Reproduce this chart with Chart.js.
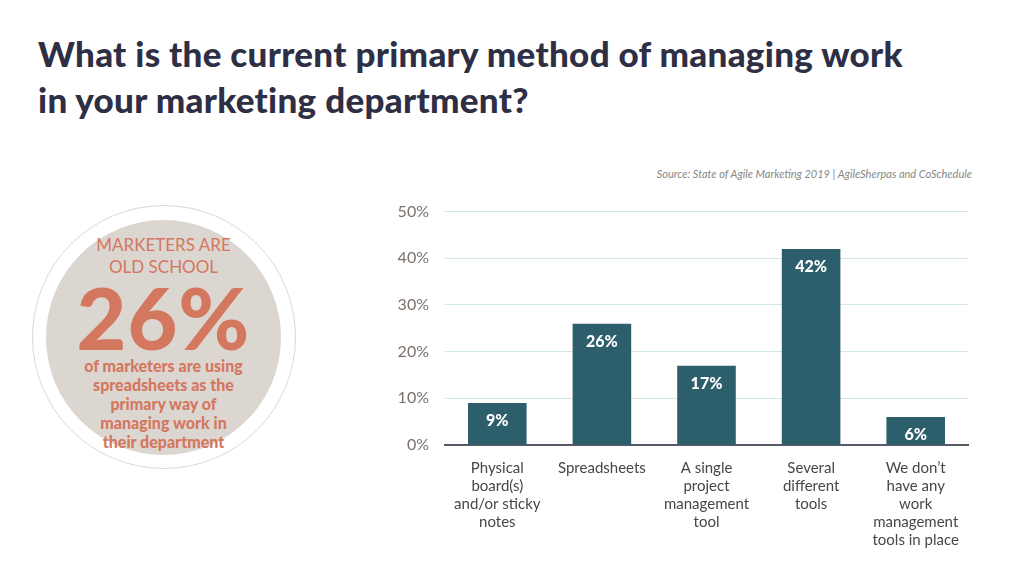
<!DOCTYPE html>
<html>
<head>
<meta charset="utf-8">
<script src="https://cdn.jsdelivr.net/npm/chart.js@4"></script>
<style>
  body { margin:0; width:1024px; height:576px; background:#fff; font-family:Lato, sans-serif; position:relative; overflow:hidden; }
  h1 { position:absolute; left:38px; top:30px; margin:0; font-size:35px; line-height:46px; color:#2e2f45; font-weight:900; letter-spacing:0.3px; }
  .src { position:absolute; right:52px; top:167px; font-size:11px; font-style:italic; color:#888; }
  .ring { position:absolute; left:32px; top:205px; width:262px; height:262px; border-radius:50%; border:1.5px solid #ddd8d4; }
  .circle { position:absolute; left:46px; top:220px; width:235px; height:235px; border-radius:50%; background:#dcd6d1; text-align:center; color:#d4775f; }
  .c1 { margin-top:14px; font-size:17px; line-height:22px; }
  .c2 { font-size:86px; font-weight:900; line-height:78px; letter-spacing:1px; }
  .c3 { font-size:16px; font-weight:900; line-height:19px; margin-top:0px; }
  #wrap { position:absolute; left:370px; top:186px; width:620px; height:369px; }
</style>
</head>
<body>
<h1>What is the current primary method of managing work<br>in your marketing department?</h1>
<div class="src">Source: State of Agile Marketing 2019 | AgileSherpas and CoSchedule</div>
<div class="ring"></div>
<div class="circle">
  <div class="c1">MARKETERS ARE<br>OLD SCHOOL</div>
  <div class="c2">26%</div>
  <div class="c3">of marketers are using<br>spreadsheets as the<br>primary way of<br>managing work in<br>their department</div>
</div>
<div id="wrap"><canvas id="chart"></canvas></div>
<script>
const categories = [
  ["Physical", "board(s)", "and/or sticky", "notes"],
  ["Spreadsheets"],
  ["A single", "project", "management", "tool"],
  ["Several", "different", "tools"],
  ["We don\u2019t", "have any", "work", "management", "tools in place"]
];
const values = [9, 26, 17, 42, 6];
const yTicks = [0, 10, 20, 30, 40, 50];

const barLabels = {
  id: "barLabels",
  afterDatasetsDraw(chart) {
    const ctx = chart.ctx;
    const meta = chart.getDatasetMeta(0);
    ctx.save();
    ctx.fillStyle = "#fff";
    ctx.font = "900 16px Lato";
    ctx.textAlign = "center";
    ctx.textBaseline = "top";
    meta.data.forEach((bar, i) => {
      ctx.fillText(values[i] + "%", bar.x, bar.y + 10);
    });
    ctx.restore();
  }
};

new Chart(document.getElementById("chart"), {
  type: "bar",
  data: {
    labels: categories,
    datasets: [{
      data: values,
      backgroundColor: "#2c5f6b",
      barPercentage: 0.56,
      categoryPercentage: 1
    }]
  },
  plugins: [barLabels],
  options: {
    responsive: true,
    maintainAspectRatio: false,
    animation: false,
    layout: { padding: { top: 13, right: 22 } },
    plugins: { legend: { display: false }, tooltip: { enabled: false } },
    scales: {
      y: {
        min: 0, max: 50,
        afterFit: s => { s.width = 75; },
        afterBuildTicks: s => { s.ticks = yTicks.map(v => ({ value: v })); },
        ticks: { callback: v => v + "%", color: "#7a716c", font: { family: "Lato", size: 16 }, padding: 16 },
        grid: { color: "#d3e7e5", drawTicks: false },
        border: { display: false }
      },
      x: {
        afterFit: s => { s.height = 110; },
        ticks: { color: "#4a4646", font: { family: "Lato", size: 15 }, maxRotation: 0, autoSkip: false, padding: 6 },
        grid: { display: false },
        border: { color: "#555a66", width: 2 }
      }
    }
  }
});
</script>
</body>
</html>
